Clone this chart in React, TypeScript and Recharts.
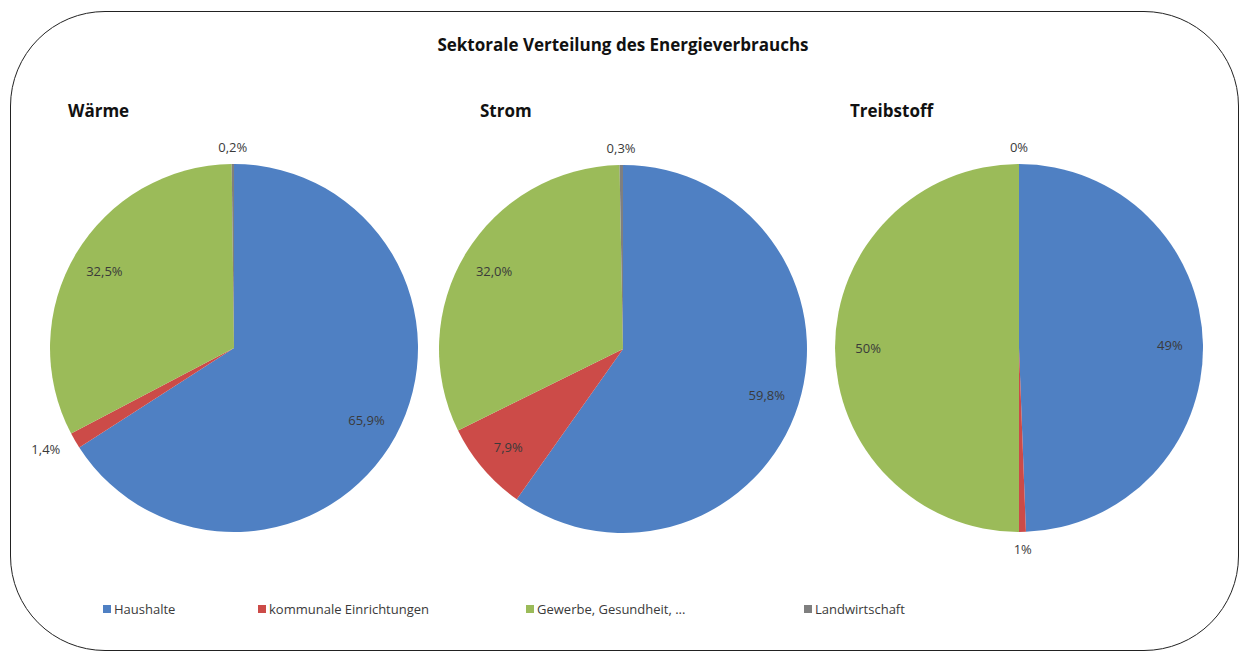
import React from "react";
import { PieChart, Pie, Cell } from "recharts";

const sectors = ["Haushalte", "kommunale Einrichtungen", "Gewerbe, Gesundheit, ...", "Landwirtschaft"];
const colors = ["#4F80C3", "#CC4B48", "#9BBB59", "#7F7F7F"];

const waermeValues = [65.9, 1.4, 32.5, 0.2];
const stromValues = [59.8, 7.9, 32.0, 0.3];
const treibstoffValues = [49.4, 0.6, 50.0, 0];

const chartTitle = "Sektorale Verteilung des Energieverbrauchs";
const pieTitles = ["Wärme", "Strom", "Treibstoff"];
const pieDecimals = [1, 1, 0];

const toRows = (vals: number[]) => sectors.map((name, i) => ({ name, value: vals[i] }));
const pies = [
  { title: pieTitles[0], data: toRows(waermeValues), decimals: pieDecimals[0], cx: 234, cy: 348, titleX: 68 },
  { title: pieTitles[1], data: toRows(stromValues), decimals: pieDecimals[1], cx: 623, cy: 349, titleX: 480 },
  { title: pieTitles[2], data: toRows(treibstoffValues), decimals: pieDecimals[2], cx: 1019, cy: 348, titleX: 850 },
];

const RADIAN = Math.PI / 180;
const FONT = "'Open Sans', 'DejaVu Sans', sans-serif";
const TITLE_FONT = "'Open Sans', Lato, sans-serif";

const makeLabel = (decimals: number) => (props: any) => {
  const { cx, cy, midAngle, outerRadius, value } = props;
  const inside = value >= 5;
  const r = inside ? outerRadius * 0.82 : outerRadius + 17;
  const cos = Math.cos(-midAngle * RADIAN);
  const sin = Math.sin(-midAngle * RADIAN);
  const x = cx + r * cos;
  const y = cy + r * sin;
  let anchor: "start" | "middle" | "end" = "middle";
  if (!inside) {
    if (cos > 0.3) anchor = "start";
    else if (cos < -0.3) anchor = "end";
  }
  const txt = value.toFixed(decimals).replace(".", ",") + "%";
  return (
    <text
      x={x}
      y={y}
      textAnchor={anchor}
      dominantBaseline="central"
      fontFamily={FONT}
      fontSize={13}
      fill="#3a3a3a"
    >
      {txt}
    </text>
  );
};

const legendLefts = [103, 258, 526, 804];

export default function App() {
  return (
    <div style={{ position: "absolute", left: 0, top: 0, width: 1242, height: 652, background: "#fff", overflow: "hidden" }}>
      <div
        style={{
          position: "absolute",
          left: 10,
          top: 11,
          width: 1229,
          height: 640,
          border: "1.6px solid #222",
          borderRadius: 95,
          boxSizing: "border-box",
        }}
      />
      <div
        style={{
          position: "absolute",
          left: 0,
          width: 1246,
          top: 33,
          textAlign: "center",
          fontFamily: TITLE_FONT,
          fontWeight: 700,
          fontSize: 17,
          color: "#111",
        }}
      >
        {chartTitle}
      </div>
      {pies.map((p) => (
        <div
          key={p.title}
          style={{
            position: "absolute",
            left: p.titleX,
            top: 99,
            fontFamily: TITLE_FONT,
            fontWeight: 700,
            fontSize: 17,
            color: "#111",
          }}
        >
          {p.title}
        </div>
      ))}
      <div style={{ position: "absolute", left: 0, top: 0 }}>
        <PieChart width={1242} height={652} margin={{ top: 0, right: 0, bottom: 0, left: 0 }}>
          {pies.map((p) => (
            <Pie
              key={p.title}
              data={p.data}
              dataKey="value"
              nameKey="name"
              cx={p.cx}
              cy={p.cy}
              outerRadius={184}
              startAngle={90}
              endAngle={-270}
              stroke="none"
              labelLine={false}
              label={makeLabel(p.decimals)}
              isAnimationActive={false}
            >
              {p.data.map((d, i) => (
                <Cell key={d.name} fill={colors[i]} />
              ))}
            </Pie>
          ))}
        </PieChart>
      </div>
      {sectors.map((s, i) => (
        <div
          key={s}
          style={{
            position: "absolute",
            left: legendLefts[i],
            top: 600,
            display: "flex",
            alignItems: "center",
            fontFamily: FONT,
            fontSize: 13,
            color: "#3a3a3a",
            whiteSpace: "nowrap",
          }}
        >
          <span style={{ display: "inline-block", width: 8, height: 8, background: colors[i], marginRight: 3 }} />
          {s}
        </div>
      ))}
    </div>
  );
}
